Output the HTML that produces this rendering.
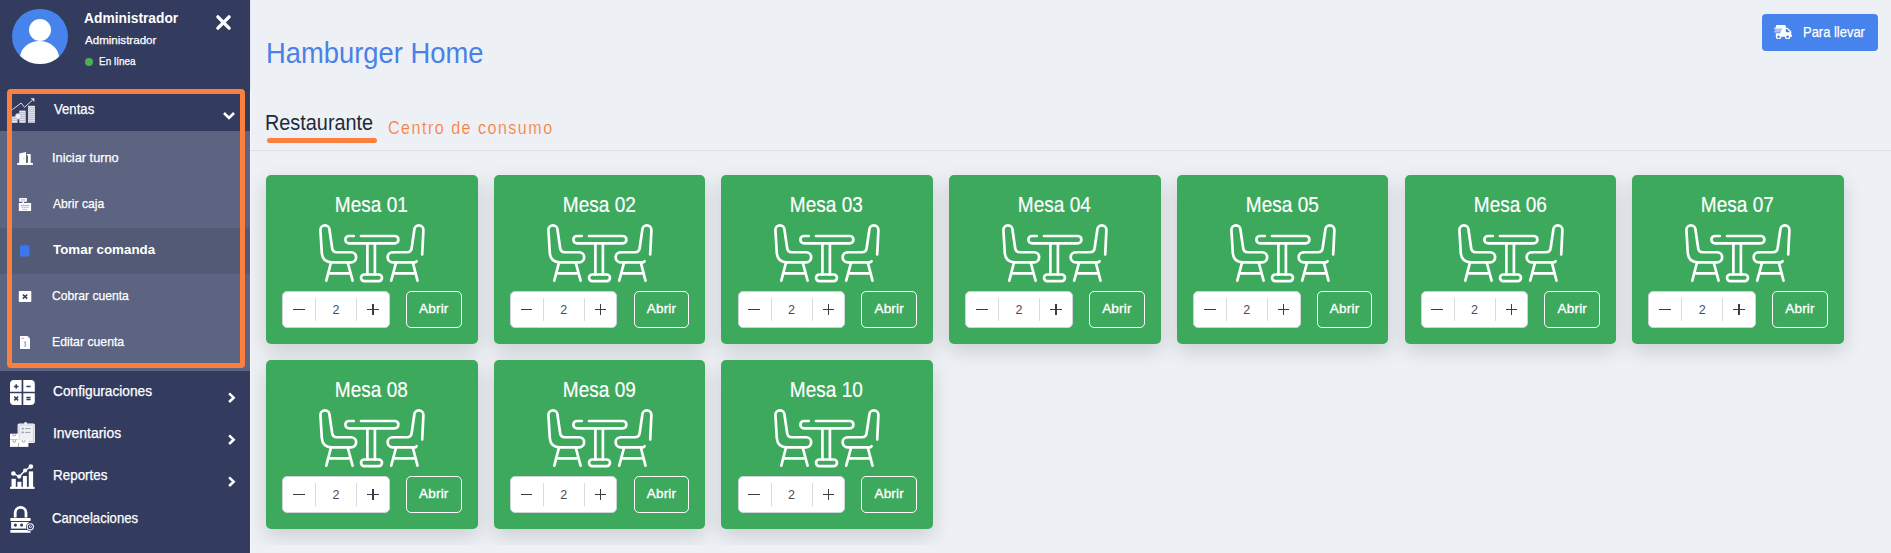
<!DOCTYPE html>
<html><head><meta charset="utf-8"><title>Hamburger Home</title><style>
*{margin:0;padding:0;box-sizing:border-box}
html,body{width:1891px;height:553px;overflow:hidden;background:#edf1f6;font-family:"Liberation Sans", sans-serif}
.abs{position:absolute}
.t{position:absolute;white-space:nowrap;transform-origin:0 0}
#sb .t{-webkit-text-stroke:0.25px currentColor}
#sb{position:absolute;left:0;top:0;width:250px;height:553px;background:#333c5e}
.av{position:absolute;left:12px;top:8.6px;width:55.6px;height:55.6px;border-radius:50%;background:#4683ea;overflow:hidden}
.avh{position:absolute;left:16.8px;top:10px;width:22.2px;height:22.2px;border-radius:50%;background:#fff}
.avb{position:absolute;left:8.3px;top:32.6px;width:39.2px;height:34px;border-radius:50%;background:#fff}
.dot{position:absolute;left:85px;top:57.8px;width:8px;height:8px;border-radius:50%;background:#4cb050}
.card{position:absolute;width:211.7px;height:169px;background:#3ca95d;border-radius:5px;box-shadow:0 7px 20px rgba(0,0,0,0.15)}
.mt{position:absolute;left:-1px;right:0;top:20px;font-size:21.4px;line-height:21.4px;text-align:center;color:#fff;transform:scaleX(0.889);-webkit-text-stroke:0.2px #fff}
.ic{left:52px;top:48px}
.qty{position:absolute;left:16.2px;top:116.1px;width:107.6px;height:36.7px;background:#fff;border:1px solid #cfd3da;border-radius:5px}
.dv{position:absolute;top:6.1px;width:1px;height:22.5px;background:#d8dbe0}
.mi{position:absolute;left:9.8px;top:17px;width:11.8px;height:1.3px;background:#3a3f47}
.pl1{position:absolute;left:84px;top:17px;width:11.4px;height:1.3px;background:#3a3f47}
.pl2{position:absolute;left:89.05px;top:11.9px;width:1.3px;height:11.1px;background:#3a3f47}
.n2{position:absolute;left:0;right:0;top:12.2px;font-size:12.5px;line-height:12.5px;text-align:center;color:#474c57}
.ab{position:absolute;left:139.9px;top:116.1px;width:55.8px;height:36.7px;border:1.5px solid #fff;border-radius:5px;color:#fff;font-size:13.5px;text-align:center;line-height:34px;letter-spacing:0.2px;-webkit-text-stroke:0.35px #fff}
</style></head>
<body>
<div id="sb">
<div class="av"><div class="avh"></div><div class="avb"></div></div>
<div class="t" style="left:84.10px;top:11.70px;font-size:13.77px;line-height:13.77px;color:#fff;font-weight:700;letter-spacing:0.0px;transform:scaleX(1.0);-webkit-text-stroke:0">Administrador</div>
<div class="t" style="left:85.10px;top:34.60px;font-size:11.01px;line-height:11.01px;color:#fff;font-weight:400;letter-spacing:0.0px;transform:scaleX(1.0515);">Administrador</div>
<div class="dot"></div>
<div class="t" style="left:98.64px;top:56.70px;font-size:10.43px;line-height:10.43px;color:#fff;font-weight:400;letter-spacing:0.0px;transform:scaleX(0.9568);">En l&iacute;nea</div>
<svg class="abs" style="left:214px;top:13px" width="19" height="19" viewBox="0 0 19 19"><path d="M3.9 3.9 L15.1 15.1 M15.1 3.9 L3.9 15.1" stroke="#fff" stroke-width="3.4" stroke-linecap="round"/></svg>
<div class="abs" style="left:0;top:90px;width:250px;height:1px;background:#2d3656"></div>
<div class="abs" style="left:0;top:131px;width:250px;height:240px;background:#5c6482"></div>
<div class="abs" style="left:0;top:228px;width:250px;height:46px;background:#525a75"></div>
<div class="t" style="left:53.70px;top:102.80px;font-size:13.9px;line-height:13.9px;color:#fff;font-weight:400;letter-spacing:0.0px;transform:scaleX(0.9476);">Ventas</div>
<svg class="abs" style="left:221px;top:109px" width="16" height="13" viewBox="0 0 16 13"><path d="M3 4 L8 9 L13 4" fill="none" stroke="#fff" stroke-width="2.6"/></svg>
<svg class="abs" style="left:10px;top:96px" width="28" height="29" viewBox="0 0 28 29">
<g fill="#e3e5ec">
<rect x="2" y="20.5" width="5.5" height="6.3"/>
<rect x="9.3" y="14.6" width="6.4" height="12.2"/>
<rect x="18" y="9.8" width="7" height="17"/>
</g>
<g stroke="#a9aebf" stroke-width="0.7">
<path d="M2 22.3h5.5M2 24.3h5.5M9.3 16.5h6.4M9.3 18.5h6.4M9.3 20.5h6.4M9.3 22.5h6.4M9.3 24.5h6.4M18 11.7h7M18 13.7h7M18 15.7h7M18 17.7h7M18 19.7h7M18 21.7h7M18 23.7h7M18 25.7h7"/>
</g>
<circle cx="8.2" cy="20.3" r="2.9" fill="#eef0f4" stroke="#a9aebf" stroke-width="0.6"/>
<path d="M2.2 13.7 L11.2 7 L14.5 11.3 L22.3 4.3" fill="none" stroke="#d5d8e2" stroke-width="1"/>
<path d="M20.6 2.2 L24.3 2.2 L24.3 5.9 Z" fill="#e3e5ec"/>
</svg>
<svg class="abs" style="left:16px;top:150px" width="18" height="16" viewBox="0 0 18 16">
<rect x="1.2" y="12.9" width="15.7" height="2" fill="#fff"/>
<path d="M3.2 3.5 L10 2 L10 14.9 L3.2 14.9 Z" fill="#fff"/>
<circle cx="8" cy="8.7" r="0.5" fill="#c07090"/>
<path d="M10.8 4 H14.7 V14.9 H12 V5.6 H10.8 Z" fill="#fff"/>
</svg>
<svg class="abs" style="left:17px;top:196px" width="16" height="17" viewBox="0 0 16 17">
<rect x="2.2" y="2" width="7.7" height="3.8" rx="0.5" fill="#fff"/>
<rect x="3.6" y="2.9" width="4.9" height="1.8" fill="#cfd0dc"/>
<rect x="5.4" y="5.6" width="1.6" height="1.6" fill="#fff"/>
<rect x="1.8" y="7" width="12.3" height="8" rx="0.5" fill="#fff"/>
<g fill="#9a90b8"><circle cx="4.4" cy="9.4" r="0.65"/><circle cx="6.3" cy="9.4" r="0.65"/><circle cx="8.1" cy="9.4" r="0.65"/><circle cx="10" cy="9.4" r="0.65"/><circle cx="11.8" cy="9.4" r="0.65"/>
<circle cx="5.3" cy="11.2" r="0.65"/><circle cx="7.2" cy="11.2" r="0.65"/><circle cx="9.1" cy="11.2" r="0.65"/><circle cx="10.9" cy="11.2" r="0.65"/></g>
<rect x="5.5" y="12.8" width="4.4" height="1.3" fill="#c9cad8"/>
</svg>
<svg class="abs" style="left:19px;top:243px" width="12" height="15" viewBox="0 0 12 15">
<rect x="1" y="2.4" width="9.5" height="11.1" rx="1" fill="#3b78ef"/>
<path d="M3.6 2.6 L5.75 1.2 L7.9 2.6 Z" fill="#3b78ef"/>
</svg>
<svg class="abs" style="left:17px;top:289px" width="16" height="15" viewBox="0 0 16 15">
<rect x="1.8" y="2" width="12.5" height="11" rx="0.8" fill="#fff"/>
<path d="M5.9 5.6 L10.2 9.6 M10.2 5.6 L5.9 9.6" stroke="#3b3f5c" stroke-width="1.5"/>
</svg>
<svg class="abs" style="left:18px;top:334px" width="14" height="17" viewBox="0 0 14 17">
<path d="M2 2 H9.5 L12 4.5 V14.9 H2 Z" fill="#fff"/>
<path d="M9.5 2 V4.5 H12" fill="#dfe3ee"/>
<rect x="3.5" y="3.8" width="2.3" height="0.9" fill="#c06f90"/>
<path d="M8.3 8 Q6.3 7.6 6.5 9.3 Q8.3 10.2 8 11.6 Q7 12.6 5.8 11.8 M7.2 7 V13" fill="none" stroke="#8aa2d0" stroke-width="0.8"/>
</svg>
<div class="t" style="left:51.90px;top:151.70px;font-size:12.75px;line-height:12.75px;color:#fff;font-weight:400;letter-spacing:0.0px;transform:scaleX(1.0015);">Iniciar turno</div>
<div class="t" style="left:52.90px;top:198.10px;font-size:12.75px;line-height:12.75px;color:#fff;font-weight:400;letter-spacing:0.0px;transform:scaleX(0.95);">Abrir caja</div>
<div class="t" style="left:52.50px;top:242.60px;font-size:13.33px;line-height:13.33px;color:#fff;font-weight:700;letter-spacing:0.0px;transform:scaleX(1.002);-webkit-text-stroke:0">Tomar comanda</div>
<div class="t" style="left:51.85px;top:289.90px;font-size:12.75px;line-height:12.75px;color:#fff;font-weight:400;letter-spacing:0.0px;transform:scaleX(0.95);">Cobrar cuenta</div>
<div class="t" style="left:51.84px;top:336.00px;font-size:12.75px;line-height:12.75px;color:#fff;font-weight:400;letter-spacing:0.0px;transform:scaleX(0.9608);">Editar cuenta</div>
<div class="abs" style="left:7px;top:89px;width:238px;height:279px;border:5px solid #fd7f3d;border-radius:4px;box-sizing:border-box"></div>
<div class="t" style="left:53.21px;top:384.70px;font-size:13.9px;line-height:13.9px;color:#fff;font-weight:400;letter-spacing:0.0px;transform:scaleX(0.9869);">Configuraciones</div>
<div class="t" style="left:53.20px;top:426.50px;font-size:13.9px;line-height:13.9px;color:#fff;font-weight:400;letter-spacing:0.0px;transform:scaleX(1.003);">Inventarios</div>
<div class="t" style="left:53.03px;top:468.80px;font-size:13.9px;line-height:13.9px;color:#fff;font-weight:400;letter-spacing:0.0px;transform:scaleX(0.9673);">Reportes</div>
<div class="t" style="left:52.26px;top:512.20px;font-size:13.9px;line-height:13.9px;color:#fff;font-weight:400;letter-spacing:0.0px;transform:scaleX(0.9444);">Cancelaciones</div>
<svg class="abs" style="left:226px;top:392px" width="12" height="12" viewBox="0 0 12 12"><path d="M3.1 1.4 L7.7 5.7 L3.1 10" fill="none" stroke="#fff" stroke-width="2.5"/></svg>
<svg class="abs" style="left:226px;top:434px" width="12" height="12" viewBox="0 0 12 12"><path d="M3.1 1.4 L7.7 5.7 L3.1 10" fill="none" stroke="#fff" stroke-width="2.5"/></svg>
<svg class="abs" style="left:226px;top:476px" width="12" height="12" viewBox="0 0 12 12"><path d="M3.1 1.4 L7.7 5.7 L3.1 10" fill="none" stroke="#fff" stroke-width="2.5"/></svg>
<svg class="abs" style="left:10px;top:380px" width="25" height="25" viewBox="0 0 25 25">
<path d="M0 4 A4 4 0 0 1 4 0 H11.6 V11.7 H0 Z M13.3 0 H20.8 A4 4 0 0 1 24.8 4 V11.7 H13.3 Z M0 13.2 H11.6 V24.9 H4 A4 4 0 0 1 0 20.9 Z M13.3 13.2 H24.8 V20.9 A4 4 0 0 1 20.8 24.9 H13.3 Z" fill="#fff"/>
<path d="M6.2 4.2 V8.8 M3.9 6.5 H8.5 M16.4 6.5 H20.6 M4.3 16.6 L8.1 20.4 M8.1 16.6 L4.3 20.4 M16.4 17.5 H20.6 M16.4 19.6 H20.6" stroke="#333c5e" stroke-width="1.5"/>
</svg>
<svg class="abs" style="left:9px;top:421px" width="27" height="27" viewBox="0 0 27 27">
<rect x="8.6" y="2.6" width="17.3" height="19.4" rx="1.6" fill="#fff"/>
<rect x="9.9" y="3.9" width="14.7" height="16.8" rx="0.8" fill="#eef0f4" stroke="#a7acbd" stroke-width="0.6"/>
<rect x="15.3" y="1.2" width="2.6" height="2.4" rx="0.6" fill="#fff"/>
<rect x="12.7" y="6.8" width="2" height="1.6" fill="#8f95aa"/>
<rect x="12.7" y="10.6" width="2" height="1.6" fill="#8f95aa"/>
<path d="M16 7.6 H21.5 M16 11.4 H21.5" stroke="#8f95aa" stroke-width="0.9"/>
<rect x="1" y="12.7" width="8.6" height="6" fill="#fff"/>
<rect x="1" y="19" width="8.6" height="6.9" fill="#fff"/>
<rect x="10" y="19" width="9.4" height="6.9" fill="#fff"/>
<path d="M4 12.7 v2 h2.6 v-2 M4 19 v2 h2.6 v-2 M13.4 19 v2 h2.6 v-2" fill="none" stroke="#9aa0b4" stroke-width="0.8"/>
</svg>
<svg class="abs" style="left:9px;top:464px" width="27" height="26" viewBox="0 0 27 26">
<g fill="#fff">
<rect x="1" y="22.8" width="24.6" height="2.1"/>
<rect x="2.5" y="14.8" width="4.3" height="8.2"/>
<rect x="8.4" y="17.8" width="4" height="5.2"/>
<rect x="13.9" y="12" width="4" height="11"/>
<rect x="19.8" y="7.4" width="4.3" height="15.6"/>
<circle cx="4.4" cy="9.5" r="2.3"/><circle cx="10.2" cy="12.6" r="2.1"/><circle cx="16.1" cy="6.5" r="2.1"/><circle cx="21.9" cy="2.6" r="2.3"/>
</g>
<path d="M4.4 9.5 L10.2 12.6 L16.1 6.5 L21.9 2.6" fill="none" stroke="#fff" stroke-width="1.4"/>
</svg>
<svg class="abs" style="left:9px;top:505px" width="27" height="29" viewBox="0 0 27 29">
<path d="M6.2 12.6 V7.8 A5.4 5.4 0 0 1 17 7.8 V12.6" fill="none" stroke="#fff" stroke-width="2.8"/>
<rect x="1.35" y="13.1" width="20.25" height="2.8" rx="0.4" fill="#fff"/>
<rect x="2.1" y="17" width="17.4" height="6.6" fill="#fff"/>
<circle cx="6.4" cy="20.1" r="1.55" fill="#333c5e"/><circle cx="12.6" cy="20.1" r="1.55" fill="#333c5e"/>
<rect x="1.35" y="25" width="20.25" height="2.8" rx="0.4" fill="#fff"/>
<circle cx="21.3" cy="21.8" r="4.4" fill="#333c5e"/>
<circle cx="21.3" cy="21.8" r="3.1" fill="none" stroke="#fff" stroke-width="1.1"/>
<circle cx="21.3" cy="21.8" r="1.4" fill="#fff"/>
<path d="M20.7 21 L22 21.8 L20.7 22.6" fill="none" stroke="#333c5e" stroke-width="0.7"/>
</svg>
</div>
<div class="abs" style="left:250px;top:0;width:1px;height:90px;background:#e2e5ea"></div>
<div class="abs" style="left:250px;top:90px;width:1px;height:463px;background:#f7f8fa"></div>
<div class="t" style="left:265.70px;top:39.00px;font-size:28.84px;line-height:28.84px;color:#4a80e8;font-weight:400;letter-spacing:0.0px;transform:scaleX(0.9496);">Hamburger Home</div>
<div class="abs" style="left:1762px;top:14px;width:116px;height:37px;background:#4683ec;border-radius:4px"></div>
<svg class="abs" style="left:1774.2px;top:24.5px" width="18.2" height="14.6" viewBox="0 0 640 512">
<path fill="#fff" d="M624 352h-16V243.9c0-12.7-5.1-24.9-14.1-33.9L494 110.1c-9-9-21.2-14.1-33.9-14.1H416V48c0-26.5-21.5-48-48-48H112C85.5 0 64 21.5 64 48v48H8c-4.4 0-8 3.6-8 8v16c0 4.4 3.6 8 8 8h272c4.4 0 8 3.6 8 8v16c0 4.4-3.6 8-8 8H40c-4.4 0-8 3.6-8 8v16c0 4.4 3.6 8 8 8h208c4.4 0 8 3.6 8 8v16c0 4.4-3.6 8-8 8H8c-4.4 0-8 3.6-8 8v16c0 4.4 3.6 8 8 8h208c4.4 0 8 3.6 8 8v16c0 4.4-3.6 8-8 8H64v128c0 53 43 96 96 96s96-43 96-96h128c0 53 43 96 96 96s96-43 96-96h48c8.8 0 16-7.2 16-16v-32c0-8.8-7.2-16-16-16zM160 464c-26.5 0-48-21.5-48-48s21.5-48 48-48 48 21.5 48 48-21.5 48-48 48zm320 0c-26.5 0-48-21.5-48-48s21.5-48 48-48 48 21.5 48 48-21.5 48-48 48zm80-208H416V144h44.1l99.9 99.9V256z"/>
</svg>
<div class="t" style="left:1802.86px;top:25.90px;font-size:13.8px;line-height:13.8px;color:#fff;font-weight:400;letter-spacing:0.0px;transform:scaleX(0.9385);-webkit-text-stroke:0.25px #fff">Para llevar</div>
<div class="t" style="left:265.46px;top:112.40px;font-size:21.6px;line-height:21.6px;color:#232a37;font-weight:400;letter-spacing:0.0px;transform:scaleX(0.9191);">Restaurante</div>
<div class="abs" style="left:267px;top:138px;width:110px;height:5px;background:#fd7f3d;border-radius:3px"></div>
<div class="t" style="left:387.74px;top:119.00px;font-size:18.7px;line-height:18.7px;color:#fa7b3a;font-weight:400;letter-spacing:1.733px;transform:scaleX(0.86);-webkit-text-stroke:0.2px #edf1f6">Centro de consumo</div>
<div class="abs" style="left:250px;top:150px;width:1641px;height:1px;background:#dcdfe4"></div>
<div class="abs" style="left:250px;top:151px;width:1641px;height:394px;overflow:hidden">
<div class="card" style="left:16.00px;top:24px"><div class="mt">Mesa 01</div><svg class="abs ic" viewBox="0 0 110 62" width="110" height="62"><g fill="none" stroke="#fff" stroke-width="2.7" stroke-linecap="round" stroke-linejoin="round">
<path d="M33.1 29.25 L19 29.25 Q14.2 29.25 14 24 L11.5 7 A4.55 4.55 0 0 0 2.4 7 L3.8 30 Q4.6 39.35 14 39.35 L33.1 39.35 A5.05 5.05 0 0 0 33.1 29.25 Z"/>
<path d="M13 39.5 L8.3 57.6 M29.7 39.5 L34.6 57.6 M10 50.4 L32.6 50.4"/>
<path d="M35.8 13 L31.05 13 A3.65 3.65 0 0 0 31.05 20.3 L76.75 20.3 A3.65 3.65 0 0 0 76.75 13 L43 13"/>
<path d="M49.4 20.3 L49.4 51.5 M56.9 20.3 L56.9 51.5"/>
<path d="M46.35 51.5 L60.65 51.5 A3.35 3.35 0 0 1 60.65 58.2 L46.35 58.2 A3.35 3.35 0 0 1 46.35 51.5 Z"/>
<path d="M74.7 29.25 L88.8 29.25 Q93.6 29.25 93.8 24 L96.3 7 A4.55 4.55 0 0 1 105.4 7 L104.2 31.5"/>
<path d="M74.7 29.25 A5.05 5.05 0 0 0 74.7 39.35 L97 39.35 Q98.3 39.3 98.6 38.2"/>
<path d="M94.8 39.5 L99.5 57.6 M78.1 39.5 L73.2 57.6 M97.8 50.4 L75.2 50.4"/>
</g></svg><div class="qty"><div class="dv" style="left:32px"></div><div class="dv" style="left:73px"></div><div class="mi"></div><div class="n2">2</div><div class="pl1"></div><div class="pl2"></div></div><div class="ab">Abrir</div></div>
<div class="card" style="left:243.70px;top:24px"><div class="mt">Mesa 02</div><svg class="abs ic" viewBox="0 0 110 62" width="110" height="62"><g fill="none" stroke="#fff" stroke-width="2.7" stroke-linecap="round" stroke-linejoin="round">
<path d="M33.1 29.25 L19 29.25 Q14.2 29.25 14 24 L11.5 7 A4.55 4.55 0 0 0 2.4 7 L3.8 30 Q4.6 39.35 14 39.35 L33.1 39.35 A5.05 5.05 0 0 0 33.1 29.25 Z"/>
<path d="M13 39.5 L8.3 57.6 M29.7 39.5 L34.6 57.6 M10 50.4 L32.6 50.4"/>
<path d="M35.8 13 L31.05 13 A3.65 3.65 0 0 0 31.05 20.3 L76.75 20.3 A3.65 3.65 0 0 0 76.75 13 L43 13"/>
<path d="M49.4 20.3 L49.4 51.5 M56.9 20.3 L56.9 51.5"/>
<path d="M46.35 51.5 L60.65 51.5 A3.35 3.35 0 0 1 60.65 58.2 L46.35 58.2 A3.35 3.35 0 0 1 46.35 51.5 Z"/>
<path d="M74.7 29.25 L88.8 29.25 Q93.6 29.25 93.8 24 L96.3 7 A4.55 4.55 0 0 1 105.4 7 L104.2 31.5"/>
<path d="M74.7 29.25 A5.05 5.05 0 0 0 74.7 39.35 L97 39.35 Q98.3 39.3 98.6 38.2"/>
<path d="M94.8 39.5 L99.5 57.6 M78.1 39.5 L73.2 57.6 M97.8 50.4 L75.2 50.4"/>
</g></svg><div class="qty"><div class="dv" style="left:32px"></div><div class="dv" style="left:73px"></div><div class="mi"></div><div class="n2">2</div><div class="pl1"></div><div class="pl2"></div></div><div class="ab">Abrir</div></div>
<div class="card" style="left:471.40px;top:24px"><div class="mt">Mesa 03</div><svg class="abs ic" viewBox="0 0 110 62" width="110" height="62"><g fill="none" stroke="#fff" stroke-width="2.7" stroke-linecap="round" stroke-linejoin="round">
<path d="M33.1 29.25 L19 29.25 Q14.2 29.25 14 24 L11.5 7 A4.55 4.55 0 0 0 2.4 7 L3.8 30 Q4.6 39.35 14 39.35 L33.1 39.35 A5.05 5.05 0 0 0 33.1 29.25 Z"/>
<path d="M13 39.5 L8.3 57.6 M29.7 39.5 L34.6 57.6 M10 50.4 L32.6 50.4"/>
<path d="M35.8 13 L31.05 13 A3.65 3.65 0 0 0 31.05 20.3 L76.75 20.3 A3.65 3.65 0 0 0 76.75 13 L43 13"/>
<path d="M49.4 20.3 L49.4 51.5 M56.9 20.3 L56.9 51.5"/>
<path d="M46.35 51.5 L60.65 51.5 A3.35 3.35 0 0 1 60.65 58.2 L46.35 58.2 A3.35 3.35 0 0 1 46.35 51.5 Z"/>
<path d="M74.7 29.25 L88.8 29.25 Q93.6 29.25 93.8 24 L96.3 7 A4.55 4.55 0 0 1 105.4 7 L104.2 31.5"/>
<path d="M74.7 29.25 A5.05 5.05 0 0 0 74.7 39.35 L97 39.35 Q98.3 39.3 98.6 38.2"/>
<path d="M94.8 39.5 L99.5 57.6 M78.1 39.5 L73.2 57.6 M97.8 50.4 L75.2 50.4"/>
</g></svg><div class="qty"><div class="dv" style="left:32px"></div><div class="dv" style="left:73px"></div><div class="mi"></div><div class="n2">2</div><div class="pl1"></div><div class="pl2"></div></div><div class="ab">Abrir</div></div>
<div class="card" style="left:699.10px;top:24px"><div class="mt">Mesa 04</div><svg class="abs ic" viewBox="0 0 110 62" width="110" height="62"><g fill="none" stroke="#fff" stroke-width="2.7" stroke-linecap="round" stroke-linejoin="round">
<path d="M33.1 29.25 L19 29.25 Q14.2 29.25 14 24 L11.5 7 A4.55 4.55 0 0 0 2.4 7 L3.8 30 Q4.6 39.35 14 39.35 L33.1 39.35 A5.05 5.05 0 0 0 33.1 29.25 Z"/>
<path d="M13 39.5 L8.3 57.6 M29.7 39.5 L34.6 57.6 M10 50.4 L32.6 50.4"/>
<path d="M35.8 13 L31.05 13 A3.65 3.65 0 0 0 31.05 20.3 L76.75 20.3 A3.65 3.65 0 0 0 76.75 13 L43 13"/>
<path d="M49.4 20.3 L49.4 51.5 M56.9 20.3 L56.9 51.5"/>
<path d="M46.35 51.5 L60.65 51.5 A3.35 3.35 0 0 1 60.65 58.2 L46.35 58.2 A3.35 3.35 0 0 1 46.35 51.5 Z"/>
<path d="M74.7 29.25 L88.8 29.25 Q93.6 29.25 93.8 24 L96.3 7 A4.55 4.55 0 0 1 105.4 7 L104.2 31.5"/>
<path d="M74.7 29.25 A5.05 5.05 0 0 0 74.7 39.35 L97 39.35 Q98.3 39.3 98.6 38.2"/>
<path d="M94.8 39.5 L99.5 57.6 M78.1 39.5 L73.2 57.6 M97.8 50.4 L75.2 50.4"/>
</g></svg><div class="qty"><div class="dv" style="left:32px"></div><div class="dv" style="left:73px"></div><div class="mi"></div><div class="n2">2</div><div class="pl1"></div><div class="pl2"></div></div><div class="ab">Abrir</div></div>
<div class="card" style="left:926.80px;top:24px"><div class="mt">Mesa 05</div><svg class="abs ic" viewBox="0 0 110 62" width="110" height="62"><g fill="none" stroke="#fff" stroke-width="2.7" stroke-linecap="round" stroke-linejoin="round">
<path d="M33.1 29.25 L19 29.25 Q14.2 29.25 14 24 L11.5 7 A4.55 4.55 0 0 0 2.4 7 L3.8 30 Q4.6 39.35 14 39.35 L33.1 39.35 A5.05 5.05 0 0 0 33.1 29.25 Z"/>
<path d="M13 39.5 L8.3 57.6 M29.7 39.5 L34.6 57.6 M10 50.4 L32.6 50.4"/>
<path d="M35.8 13 L31.05 13 A3.65 3.65 0 0 0 31.05 20.3 L76.75 20.3 A3.65 3.65 0 0 0 76.75 13 L43 13"/>
<path d="M49.4 20.3 L49.4 51.5 M56.9 20.3 L56.9 51.5"/>
<path d="M46.35 51.5 L60.65 51.5 A3.35 3.35 0 0 1 60.65 58.2 L46.35 58.2 A3.35 3.35 0 0 1 46.35 51.5 Z"/>
<path d="M74.7 29.25 L88.8 29.25 Q93.6 29.25 93.8 24 L96.3 7 A4.55 4.55 0 0 1 105.4 7 L104.2 31.5"/>
<path d="M74.7 29.25 A5.05 5.05 0 0 0 74.7 39.35 L97 39.35 Q98.3 39.3 98.6 38.2"/>
<path d="M94.8 39.5 L99.5 57.6 M78.1 39.5 L73.2 57.6 M97.8 50.4 L75.2 50.4"/>
</g></svg><div class="qty"><div class="dv" style="left:32px"></div><div class="dv" style="left:73px"></div><div class="mi"></div><div class="n2">2</div><div class="pl1"></div><div class="pl2"></div></div><div class="ab">Abrir</div></div>
<div class="card" style="left:1154.50px;top:24px"><div class="mt">Mesa 06</div><svg class="abs ic" viewBox="0 0 110 62" width="110" height="62"><g fill="none" stroke="#fff" stroke-width="2.7" stroke-linecap="round" stroke-linejoin="round">
<path d="M33.1 29.25 L19 29.25 Q14.2 29.25 14 24 L11.5 7 A4.55 4.55 0 0 0 2.4 7 L3.8 30 Q4.6 39.35 14 39.35 L33.1 39.35 A5.05 5.05 0 0 0 33.1 29.25 Z"/>
<path d="M13 39.5 L8.3 57.6 M29.7 39.5 L34.6 57.6 M10 50.4 L32.6 50.4"/>
<path d="M35.8 13 L31.05 13 A3.65 3.65 0 0 0 31.05 20.3 L76.75 20.3 A3.65 3.65 0 0 0 76.75 13 L43 13"/>
<path d="M49.4 20.3 L49.4 51.5 M56.9 20.3 L56.9 51.5"/>
<path d="M46.35 51.5 L60.65 51.5 A3.35 3.35 0 0 1 60.65 58.2 L46.35 58.2 A3.35 3.35 0 0 1 46.35 51.5 Z"/>
<path d="M74.7 29.25 L88.8 29.25 Q93.6 29.25 93.8 24 L96.3 7 A4.55 4.55 0 0 1 105.4 7 L104.2 31.5"/>
<path d="M74.7 29.25 A5.05 5.05 0 0 0 74.7 39.35 L97 39.35 Q98.3 39.3 98.6 38.2"/>
<path d="M94.8 39.5 L99.5 57.6 M78.1 39.5 L73.2 57.6 M97.8 50.4 L75.2 50.4"/>
</g></svg><div class="qty"><div class="dv" style="left:32px"></div><div class="dv" style="left:73px"></div><div class="mi"></div><div class="n2">2</div><div class="pl1"></div><div class="pl2"></div></div><div class="ab">Abrir</div></div>
<div class="card" style="left:1382.20px;top:24px"><div class="mt">Mesa 07</div><svg class="abs ic" viewBox="0 0 110 62" width="110" height="62"><g fill="none" stroke="#fff" stroke-width="2.7" stroke-linecap="round" stroke-linejoin="round">
<path d="M33.1 29.25 L19 29.25 Q14.2 29.25 14 24 L11.5 7 A4.55 4.55 0 0 0 2.4 7 L3.8 30 Q4.6 39.35 14 39.35 L33.1 39.35 A5.05 5.05 0 0 0 33.1 29.25 Z"/>
<path d="M13 39.5 L8.3 57.6 M29.7 39.5 L34.6 57.6 M10 50.4 L32.6 50.4"/>
<path d="M35.8 13 L31.05 13 A3.65 3.65 0 0 0 31.05 20.3 L76.75 20.3 A3.65 3.65 0 0 0 76.75 13 L43 13"/>
<path d="M49.4 20.3 L49.4 51.5 M56.9 20.3 L56.9 51.5"/>
<path d="M46.35 51.5 L60.65 51.5 A3.35 3.35 0 0 1 60.65 58.2 L46.35 58.2 A3.35 3.35 0 0 1 46.35 51.5 Z"/>
<path d="M74.7 29.25 L88.8 29.25 Q93.6 29.25 93.8 24 L96.3 7 A4.55 4.55 0 0 1 105.4 7 L104.2 31.5"/>
<path d="M74.7 29.25 A5.05 5.05 0 0 0 74.7 39.35 L97 39.35 Q98.3 39.3 98.6 38.2"/>
<path d="M94.8 39.5 L99.5 57.6 M78.1 39.5 L73.2 57.6 M97.8 50.4 L75.2 50.4"/>
</g></svg><div class="qty"><div class="dv" style="left:32px"></div><div class="dv" style="left:73px"></div><div class="mi"></div><div class="n2">2</div><div class="pl1"></div><div class="pl2"></div></div><div class="ab">Abrir</div></div>
<div class="card" style="left:16.00px;top:209px"><div class="mt">Mesa 08</div><svg class="abs ic" viewBox="0 0 110 62" width="110" height="62"><g fill="none" stroke="#fff" stroke-width="2.7" stroke-linecap="round" stroke-linejoin="round">
<path d="M33.1 29.25 L19 29.25 Q14.2 29.25 14 24 L11.5 7 A4.55 4.55 0 0 0 2.4 7 L3.8 30 Q4.6 39.35 14 39.35 L33.1 39.35 A5.05 5.05 0 0 0 33.1 29.25 Z"/>
<path d="M13 39.5 L8.3 57.6 M29.7 39.5 L34.6 57.6 M10 50.4 L32.6 50.4"/>
<path d="M35.8 13 L31.05 13 A3.65 3.65 0 0 0 31.05 20.3 L76.75 20.3 A3.65 3.65 0 0 0 76.75 13 L43 13"/>
<path d="M49.4 20.3 L49.4 51.5 M56.9 20.3 L56.9 51.5"/>
<path d="M46.35 51.5 L60.65 51.5 A3.35 3.35 0 0 1 60.65 58.2 L46.35 58.2 A3.35 3.35 0 0 1 46.35 51.5 Z"/>
<path d="M74.7 29.25 L88.8 29.25 Q93.6 29.25 93.8 24 L96.3 7 A4.55 4.55 0 0 1 105.4 7 L104.2 31.5"/>
<path d="M74.7 29.25 A5.05 5.05 0 0 0 74.7 39.35 L97 39.35 Q98.3 39.3 98.6 38.2"/>
<path d="M94.8 39.5 L99.5 57.6 M78.1 39.5 L73.2 57.6 M97.8 50.4 L75.2 50.4"/>
</g></svg><div class="qty"><div class="dv" style="left:32px"></div><div class="dv" style="left:73px"></div><div class="mi"></div><div class="n2">2</div><div class="pl1"></div><div class="pl2"></div></div><div class="ab">Abrir</div></div>
<div class="card" style="left:243.70px;top:209px"><div class="mt">Mesa 09</div><svg class="abs ic" viewBox="0 0 110 62" width="110" height="62"><g fill="none" stroke="#fff" stroke-width="2.7" stroke-linecap="round" stroke-linejoin="round">
<path d="M33.1 29.25 L19 29.25 Q14.2 29.25 14 24 L11.5 7 A4.55 4.55 0 0 0 2.4 7 L3.8 30 Q4.6 39.35 14 39.35 L33.1 39.35 A5.05 5.05 0 0 0 33.1 29.25 Z"/>
<path d="M13 39.5 L8.3 57.6 M29.7 39.5 L34.6 57.6 M10 50.4 L32.6 50.4"/>
<path d="M35.8 13 L31.05 13 A3.65 3.65 0 0 0 31.05 20.3 L76.75 20.3 A3.65 3.65 0 0 0 76.75 13 L43 13"/>
<path d="M49.4 20.3 L49.4 51.5 M56.9 20.3 L56.9 51.5"/>
<path d="M46.35 51.5 L60.65 51.5 A3.35 3.35 0 0 1 60.65 58.2 L46.35 58.2 A3.35 3.35 0 0 1 46.35 51.5 Z"/>
<path d="M74.7 29.25 L88.8 29.25 Q93.6 29.25 93.8 24 L96.3 7 A4.55 4.55 0 0 1 105.4 7 L104.2 31.5"/>
<path d="M74.7 29.25 A5.05 5.05 0 0 0 74.7 39.35 L97 39.35 Q98.3 39.3 98.6 38.2"/>
<path d="M94.8 39.5 L99.5 57.6 M78.1 39.5 L73.2 57.6 M97.8 50.4 L75.2 50.4"/>
</g></svg><div class="qty"><div class="dv" style="left:32px"></div><div class="dv" style="left:73px"></div><div class="mi"></div><div class="n2">2</div><div class="pl1"></div><div class="pl2"></div></div><div class="ab">Abrir</div></div>
<div class="card" style="left:471.40px;top:209px"><div class="mt">Mesa 10</div><svg class="abs ic" viewBox="0 0 110 62" width="110" height="62"><g fill="none" stroke="#fff" stroke-width="2.7" stroke-linecap="round" stroke-linejoin="round">
<path d="M33.1 29.25 L19 29.25 Q14.2 29.25 14 24 L11.5 7 A4.55 4.55 0 0 0 2.4 7 L3.8 30 Q4.6 39.35 14 39.35 L33.1 39.35 A5.05 5.05 0 0 0 33.1 29.25 Z"/>
<path d="M13 39.5 L8.3 57.6 M29.7 39.5 L34.6 57.6 M10 50.4 L32.6 50.4"/>
<path d="M35.8 13 L31.05 13 A3.65 3.65 0 0 0 31.05 20.3 L76.75 20.3 A3.65 3.65 0 0 0 76.75 13 L43 13"/>
<path d="M49.4 20.3 L49.4 51.5 M56.9 20.3 L56.9 51.5"/>
<path d="M46.35 51.5 L60.65 51.5 A3.35 3.35 0 0 1 60.65 58.2 L46.35 58.2 A3.35 3.35 0 0 1 46.35 51.5 Z"/>
<path d="M74.7 29.25 L88.8 29.25 Q93.6 29.25 93.8 24 L96.3 7 A4.55 4.55 0 0 1 105.4 7 L104.2 31.5"/>
<path d="M74.7 29.25 A5.05 5.05 0 0 0 74.7 39.35 L97 39.35 Q98.3 39.3 98.6 38.2"/>
<path d="M94.8 39.5 L99.5 57.6 M78.1 39.5 L73.2 57.6 M97.8 50.4 L75.2 50.4"/>
</g></svg><div class="qty"><div class="dv" style="left:32px"></div><div class="dv" style="left:73px"></div><div class="mi"></div><div class="n2">2</div><div class="pl1"></div><div class="pl2"></div></div><div class="ab">Abrir</div></div>
</div>
</body></html>
